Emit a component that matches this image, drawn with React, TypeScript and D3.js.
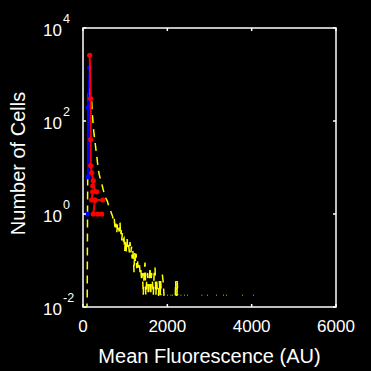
import React from 'react';
import * as d3 from 'd3';

// histogram of mean fluorescence (yellow, dashed); 0 = empty bin
const histX = [80, 100, 105, 112, 120, 130, 142, 155, 166, 185, 206, 220, 232, 244, 262, 285, 305, 325, 345, 363, 385, 410, 444, 460, 481, 500, 522, 550, 576, 600, 624, 650, 681, 700, 720, 740, 759, 780, 800, 820, 840, 860, 878, 890, 905, 918, 935, 956, 973, 990, 1005, 1020, 1044, 1060, 1080, 1100, 1115, 1135, 1150, 1165, 1179, 1195, 1210, 1225, 1245, 1260, 1274, 1290, 1310, 1336, 1352, 1370, 1390, 1410, 1430, 1450, 1471, 1490, 1510, 1530, 1549, 1570, 1590, 1606, 1625, 1645, 1668, 1688, 1708, 1728, 1748, 1770, 1790, 1810, 1830, 1843, 1860, 1875, 1881, 1900, 1921, 1935, 1950, 2000, 2012, 2025, 2080, 2092, 2105, 2118, 2130, 2145, 2190, 2198, 2206, 2229, 2237, 2245, 2260, 2317, 2329, 2340, 2396, 2408, 2420, 2474, 2486, 2500, 2815, 2827, 2840, 2949, 2961, 2975, 3162, 3174, 3190, 3328, 3340, 3355, 3400, 3412, 3425, 3779, 3791, 3805, 4040, 4052, 4065];
const histY = [0.004, 0.015, 0.3, 8, 120, 420, 525, 450, 372, 320, 275, 144, 110, 76, 52, 36, 25, 18, 12.5, 9.4, 7, 5.8, 4.7, 3.9, 3.3, 2.8, 2.45, 2.1, 1.9, 1.6, 1.4, 1.2, 1.0, 0.9, 0.75, 0.86, 0.45, 0.62, 0.39, 0.64, 0.5, 0.42, 0.67, 0.35, 0.45, 0.27, 0.39, 0.28, 0.3, 0.16, 0.28, 0.14, 0.3, 0.18, 0.22, 0.15, 0.25, 0.15, 0.2, 0.11, 0.17, 0.12, 0.056, 0.15, 0.09, 0.14, 0.068, 0.1, 0.07, 0.09, 0.056, 0.07, 0.036, 0.054, 0.018, 0.056, 0.09, 0.018, 0.036, 0.054, 0.018, 0.036, 0.072, 0.018, 0.054, 0.036, 0.018, 0.054, 0.072, 0.018, 0.036, 0.018, 0.018, 0.036, 0.018, 0.036, 0.018, 0, 0.05, 0.036, 0.018, 0.018, 0, 0.018, 0.018, 0, 0.018, 0.018, 0, 0.018, 0.018, 0, 0.018, 0.036, 0.018, 0.018, 0.036, 0.018, 0, 0.018, 0.018, 0, 0.018, 0.018, 0, 0.018, 0.018, 0, 0.018, 0.018, 0, 0.018, 0.018, 0, 0.018, 0.018, 0, 0.018, 0.018, 0, 0.018, 0.018, 0, 0.018, 0.018, 0, 0.018, 0.018, 0];

// red series
const redX = [159, 183, 183, 183, 206, 244, 230, 325, 230, 206, 285, 467, 285, 244, 349, 444];
const redY = [2580, 305, 40, 11, 7.7, 5.2, 4, 3, 3, 2, 2, 2, 2, 1, 1, 1];

// blue series (0 = break)
const blueX = [159, 119, 119, 105, 95];
const blueY = [1413, 195, 6.3, 0, 1];

const xTicks = [0, 2000, 4000, 6000];
const yTicks = [0.01, 1, 100, 10000];
const yExp = ['-2', '0', '2', '4'];

const W = 371, H = 371;
const M = { left: 83, right: 336, top: 28, bottom: 307 };
const FONT = '"Liberation Sans", Arial, Helvetica, sans-serif';

export default function App() {
  const x = d3.scaleLinear().domain([0, 6000]).range([M.left, M.right]);
  const y = d3.scaleLog().domain([0.01, 10000]).range([M.bottom, M.top]);

  const line = d3.line<[number, number]>()
    .defined(d => d[1] > 0)
    .x(d => x(d[0]))
    .y(d => y(Math.max(d[1], 0.001)));

  const hist = histX.map((v, i) => [v, histY[i]] as [number, number]);
  const red = redX.map((v, i) => [v, redY[i]] as [number, number]);
  const blue = blueX.map((v, i) => [v, blueY[i]] as [number, number]);

  const tl = 3;

  return (
    <div style={{ position: 'fixed', left: 0, top: 0, width: W, height: H, background: '#000' }}>
      <svg width={W} height={H} style={{ display: 'block' }}>
        <rect x={0} y={0} width={W} height={H} fill='#000' />
        <defs>
          <clipPath id='plot-clip'>
            <rect x={M.left} y={M.top} width={M.right - M.left} height={M.bottom - M.top} />
          </clipPath>
        </defs>

        <g clipPath='url(#plot-clip)'>
          <path d={line(hist) || ''} fill='none' stroke='#ffff00' strokeWidth={1.5} strokeDasharray='8,6' />
          <path d={line(blue) || ''} fill='none' stroke='#0000ff' strokeWidth={2} />
          {blue.filter(d => d[1] > 0).map((d, i) => (
            <circle key={'b' + i} cx={x(d[0])} cy={y(d[1])} r={2.6} fill='#0000ff' />
          ))}
          <path d={line(red) || ''} fill='none' stroke='#ff0000' strokeWidth={2} />
          {red.map((d, i) => (
            <circle key={'r' + i} cx={x(d[0])} cy={y(d[1])} r={2.6} fill='#ff0000' />
          ))}
        </g>

        {/* axes box */}
        <rect x={M.left} y={M.top} width={M.right - M.left} height={M.bottom - M.top}
          fill='none' stroke='#fff' strokeWidth={1.5} />

        {/* x ticks */}
        {xTicks.map(t => (
          <g key={'xt' + t}>
            <line x1={x(t)} x2={x(t)} y1={M.bottom} y2={M.bottom - tl} stroke='#fff' strokeWidth={1.5} />
            <line x1={x(t)} x2={x(t)} y1={M.top} y2={M.top + tl} stroke='#fff' strokeWidth={1.5} />
            <text x={x(t)} y={331.5} fill='#fff' fontSize={17} fontFamily={FONT} textAnchor='middle'>{t}</text>
          </g>
        ))}

        {/* y ticks */}
        {yTicks.map((t, i) => (
          <g key={'yt' + t}>
            <line x1={M.left} x2={M.left + tl} y1={y(t)} y2={y(t)} stroke='#fff' strokeWidth={1.5} />
            <line x1={M.right} x2={M.right - tl} y1={y(t)} y2={y(t)} stroke='#fff' strokeWidth={1.5} />
            <text x={62} y={y(t) + 8} fill='#fff' fontSize={17} fontFamily={FONT} textAnchor='end'>10</text>
            <text x={63} y={y(t) - 5} fill='#fff' fontSize={12.5} fontFamily={FONT}>{yExp[i]}</text>
          </g>
        ))}

        <text x={(M.left + M.right) / 2} y={363} fill='#fff' fontSize={20} fontFamily={FONT} textAnchor='middle'>
          Mean Fluorescence (AU)
        </text>
        <text transform={`translate(25,${(M.top + M.bottom) / 2 - 4}) rotate(-90)`} fill='#fff' fontSize={20}
          fontFamily={FONT} textAnchor='middle'>
          Number of Cells
        </text>
      </svg>
    </div>
  );
}
